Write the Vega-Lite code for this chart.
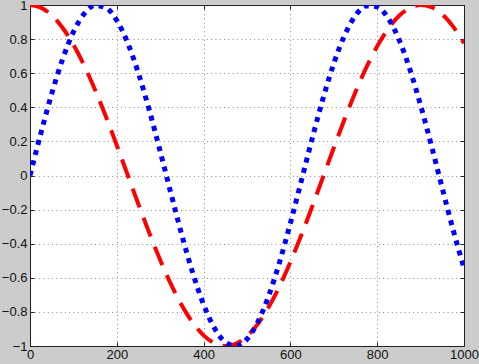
{
  "$schema": "https://vega.github.io/schema/vega-lite/v6.json",
  "autosize": {"type": "none"},
  "padding": {"left": 30, "top": 5, "right": 15, "bottom": 18},
  "width": 434,
  "height": 341,
  "background": "#cccccc",
  "config": {
    "view": {"fill": "white", "stroke": "#222222", "strokeWidth": 1},
    "axis": {
      "labelFont": "Liberation Sans",
      "labelFontSize": 13,
      "labelColor": "#111111",
      "domainColor": "#222222",
      "tickColor": "#222222",
      "gridColor": "#8a8a8a",
      "gridDash": [1, 3.3],
      "gridOpacity": 1,
      "gridWidth": 1
    }
  },
  "data": {"values": [
    {"x": 0, "cos": 1, "sin": 0},
    {"x": 25, "cos": 0.9849, "sin": 0.2474},
    {"x": 50, "cos": 0.94, "sin": 0.4794},
    {"x": 75, "cos": 0.8666, "sin": 0.6816},
    {"x": 100, "cos": 0.767, "sin": 0.8415},
    {"x": 125, "cos": 0.6443, "sin": 0.949},
    {"x": 150, "cos": 0.502, "sin": 0.9975},
    {"x": 175, "cos": 0.3446, "sin": 0.984},
    {"x": 200, "cos": 0.1767, "sin": 0.9093},
    {"x": 225, "cos": 0.0034, "sin": 0.7781},
    {"x": 250, "cos": -0.1699, "sin": 0.5985},
    {"x": 275, "cos": -0.338, "sin": 0.3817},
    {"x": 300, "cos": -0.4961, "sin": 0.1411},
    {"x": 325, "cos": -0.6389, "sin": -0.1082},
    {"x": 350, "cos": -0.7625, "sin": -0.3508},
    {"x": 375, "cos": -0.8633, "sin": -0.5716},
    {"x": 400, "cos": -0.9375, "sin": -0.7568},
    {"x": 425, "cos": -0.9837, "sin": -0.895},
    {"x": 450, "cos": -1.0, "sin": -0.9775},
    {"x": 475, "cos": -0.986, "sin": -0.9993},
    {"x": 500, "cos": -0.9423, "sin": -0.9589},
    {"x": 525, "cos": -0.87, "sin": -0.8589},
    {"x": 550, "cos": -0.7714, "sin": -0.7055},
    {"x": 575, "cos": -0.6495, "sin": -0.5083},
    {"x": 600, "cos": -0.5076, "sin": -0.2794},
    {"x": 625, "cos": -0.3511, "sin": -0.0332},
    {"x": 650, "cos": -0.1835, "sin": 0.2151},
    {"x": 675, "cos": -0.0103, "sin": 0.45},
    {"x": 700, "cos": 0.1631, "sin": 0.657},
    {"x": 725, "cos": 0.3315, "sin": 0.8231},
    {"x": 750, "cos": 0.49, "sin": 0.938},
    {"x": 775, "cos": 0.6337, "sin": 0.9946},
    {"x": 800, "cos": 0.7581, "sin": 0.9894},
    {"x": 825, "cos": 0.8594, "sin": 0.9228},
    {"x": 850, "cos": 0.9353, "sin": 0.7985},
    {"x": 875, "cos": 0.9825, "sin": 0.6247},
    {"x": 900, "cos": 0.9999, "sin": 0.4121},
    {"x": 925, "cos": 0.9872, "sin": 0.1743},
    {"x": 950, "cos": 0.9446, "sin": -0.0752},
    {"x": 975, "cos": 0.8734, "sin": -0.3195},
    {"x": 1000, "cos": 0.7758, "sin": -0.544}
  ]},
  "layer": [
    {
      "mark": {"type": "line", "color": "#ff0000", "strokeWidth": 4, "strokeDash": [20, 11], "interpolate": "monotone", "clip": true},
      "encoding": {
        "x": {"field": "x", "type": "quantitative", "scale": {"domain": [0, 1000], "nice": false},
          "axis": {"title": null, "orient": "bottom", "values": [0, 200, 400, 600, 800, 1000], "grid": true, "tickSize": -4, "labelPadding": 6, "labelFlush": false, "labelExpr": "format(datum.value, 'd')"}},
        "y": {"field": "cos", "type": "quantitative", "scale": {"domain": [-1, 1], "nice": false},
          "axis": {"title": null, "orient": "left", "values": [-1, -0.8, -0.6, -0.4, -0.2, 0, 0.2, 0.4, 0.6, 0.8, 1], "grid": true, "tickSize": -4, "labelPadding": 7, "labelFlush": false, "labelExpr": "format(datum.value, '~g')"}}
      }
    },
    {
      "mark": {"type": "line", "color": "#0000ff", "strokeWidth": 5, "strokeDash": [5, 5.5], "interpolate": "monotone", "clip": true},
      "encoding": {
        "x": {"field": "x", "type": "quantitative", "scale": {"domain": [0, 1000], "nice": false},
          "axis": {"title": null, "orient": "top", "values": [0, 200, 400, 600, 800, 1000], "grid": false, "labels": false, "tickSize": -4}},
        "y": {"field": "sin", "type": "quantitative", "scale": {"domain": [-1, 1], "nice": false},
          "axis": {"title": null, "orient": "right", "values": [-1, -0.8, -0.6, -0.4, -0.2, 0, 0.2, 0.4, 0.6, 0.8, 1], "grid": false, "labels": false, "tickSize": -4}}
      }
    }
  ],
  "resolve": {"axis": {"x": "independent", "y": "independent"}}
}
